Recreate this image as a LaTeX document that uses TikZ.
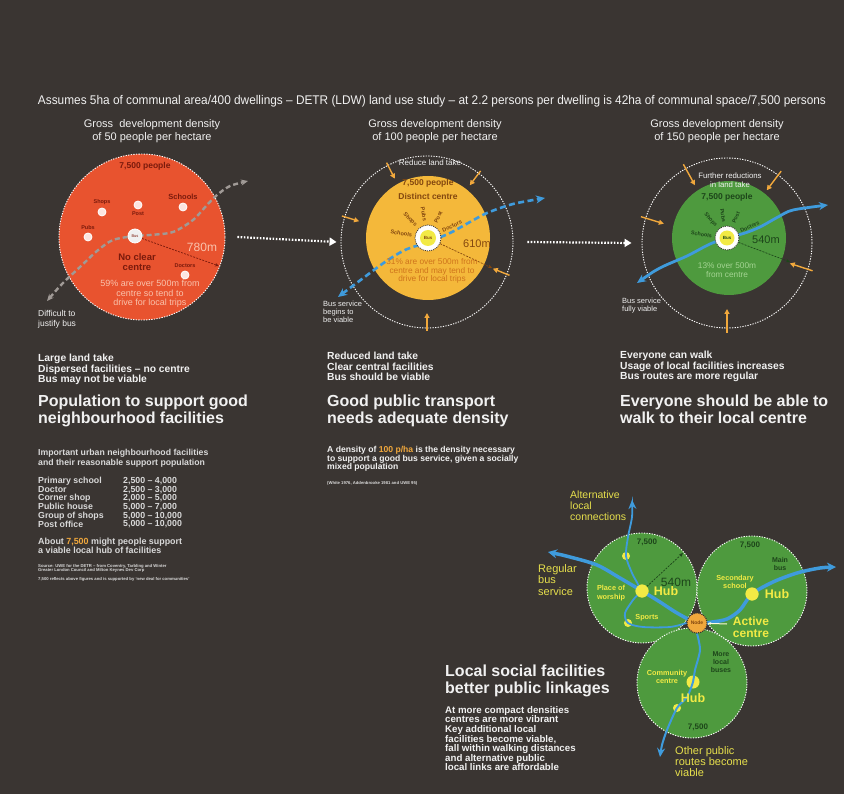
\documentclass[tikz,border=0pt]{standalone}
\usepackage{fontspec}
\setmainfont{Liberation Sans}
\newfontfamily\narrowfont[FakeStretch=0.94]{Liberation Sans}
\usetikzlibrary{arrows.meta,positioning}
\definecolor{bgc}{HTML}{3A3532}
\definecolor{redc}{HTML}{E8532F}
\definecolor{redtxt}{HTML}{7A1A0C}
\definecolor{pinktxt}{HTML}{F9C2AC}
\definecolor{yelc}{HTML}{F4B83A}
\definecolor{browntxt}{HTML}{83470F}
\definecolor{ambtxt}{HTML}{CF741C}
\definecolor{grnc}{HTML}{4E9A3E}
\definecolor{grntxt}{HTML}{1D451A}
\definecolor{ltgrn}{HTML}{A3D492}
\definecolor{bluec}{HTML}{3F9BDC}
\definecolor{orac}{HTML}{F1A83C}
\definecolor{hubyel}{HTML}{F2EA45}
\definecolor{labyel}{HTML}{E6DF4C}
\definecolor{wtxt}{HTML}{F1F1F1}
\definecolor{gtxt}{HTML}{D9D9D9}
\definecolor{busgrey}{HTML}{A09A96}
\newcommand\fsz[2]{\fontsize{#1}{#2}\selectfont}
\tikzset{
	disc/.style={circle, inner sep=0pt, minimum size=#1},
	rim/.style={draw=white, line width=0.9pt, dash pattern=on 1.3pt off 1.3pt},
	inarrow/.style={orac, line width=1.4pt, -{Triangle[length=5pt,width=5pt]}},
	linkarrow/.style={white, line width=2.2pt, dash pattern=on 1.6pt off 1.6pt, -{Triangle[length=7pt,width=8pt]}},
	radline/.style={line width=0.7pt, dash pattern=on 2pt off 1.2pt, -{Stealth[length=4pt,width=3.5pt]}},
	bigtip/.style={{Stealth[length=9pt,width=9pt]}-{Stealth[length=9pt,width=9pt]}},
	facdot/.style={disc=8pt, fill=white!85!redc, draw=white, line width=0.8pt},
	hubdot/.style={disc=13pt, fill=hubyel},
	smalldot/.style={disc=8pt, fill=hubyel},
	blk/.style={anchor=north west, align=left, font=\bfseries\fsz{10.3}{10.6}},
	headline/.style={anchor=north west, align=left, font=\bfseries\fsz{16}{17}},
	yellab/.style={anchor=north west, align=left, text=labyel, font=\fsz{10.5}{11}},
}
\begin{document}
\begin{tikzpicture}[x=1pt, y=-1pt, every node/.style={inner sep=0pt, text=wtxt}]
	\fill[bgc] (0,0) rectangle (844,794);
	\useasboundingbox (0,0) rectangle (844,794);
	\node[font=\narrowfont\fsz{12.6}{13}] (head) at (432,101) {Assumes 5ha of communal area/400 dwellings – DETR (LDW) land use study – at 2.2 persons per dwelling is 42ha of communal space/7,500 persons};
	\node[align=center, font=\fsz{11}{12.5}] (t1) at (152,131) {Gross\ \ development density\\of 50 people per hectare};
	\node[align=center, font=\fsz{11}{12.5}] (t2) at (435,131) {Gross development density\\of 100 people per hectare};
	\node[align=center, font=\fsz{11}{12.5}] (t3) at (717,131) {Gross development density\\of 150 people per hectare};

	\node[disc=166pt, fill=redc, rim] (c1) at (142,237) {};
	\draw[busgrey, line width=2.4pt, dash pattern=on 5pt off 3pt, {Stealth[length=7pt,width=6pt]}-{Stealth[length=7pt,width=6pt]}] plot[smooth] coordinates {(47,301) (63,283) (80,267) (97,251) (113,240) (135,236) (150,235) (173,232) (193,220) (207,205) (217,195) (230,186) (248,181)};
	\node[text=redtxt, font=\bfseries\fsz{8.5}{9}] (pop1) at (145,166) {7,500 people};
	\node[facdot] (shops1) at (102,212) {};
	\node[text=redtxt, font=\bfseries\fsz{5.5}{6}, above=2.5pt of shops1] {Shops};
	\node[facdot] (post1) at (138,205) {};
	\node[text=redtxt, font=\bfseries\fsz{5.5}{6}, below=2.5pt of post1] {Post};
	\node[facdot] (schools1) at (183,207) {};
	\node[text=redtxt, font=\bfseries\fsz{7.5}{8}, above=2.5pt of schools1] {Schools};
	\node[facdot] (pubs1) at (88,237) {};
	\node[text=redtxt, font=\bfseries\fsz{5.5}{6}, above=2.5pt of pubs1] {Pubs};
	\node[facdot] (doctors1) at (185,275) {};
	\node[text=redtxt, font=\bfseries\fsz{5.5}{6}, above=2.5pt of doctors1] {Doctors};
	\node[disc=14pt, fill=white!88!gray, draw=white, line width=0.8pt, text=redtxt, font=\fsz{4}{4}] (bus1) at (135,236) {Bus};
	\coordinate (r1) at (219,266);
	\draw[radline, redtxt] (bus1) -- (r1);
	\node[text=pinktxt, font=\fsz{12}{12}] (d1) at (202,247) {780m};
	\node[align=center, text=redtxt, font=\bfseries\fsz{9.5}{10}] (nc1) at (137,262) {No clear\\centre};
	\node[align=center, text=pinktxt, font=\fsz{9}{9.5}] (pc1) at (150,294) {59\% are over 500m from\\centre so tend to\\drive for local trips};
	\node[anchor=west, align=left, font=\fsz{8.5}{10}] (note1) at (38,319) {Difficult to\\justify bus};

	\node[disc=172pt, rim] (o2) at (427,242) {};
	\node[disc=124pt, fill=yelc] (c2) at (428,238) {};
	\begin{scope}[shift={(o2.center)}]
	\foreach \a in {-117,-53,-163,22,90} \draw[inarrow] (\a:89) -- (\a:71);
	\end{scope}
	\draw[bluec, line width=2.6pt, dash pattern=on 6pt off 3.5pt, {Stealth[length=9pt,width=8pt]}-{Stealth[length=9pt,width=8pt]}] plot[smooth] coordinates {(338,297) (362,279) (385,262) (405,250) (428,242) (450,233) (470,222) (487,213) (513,204) (545,198)};
	\node[font=\fsz{8}{9}] (lt2) at (430,163) {Reduce land take};
	\node[text=browntxt, font=\bfseries\fsz{8.5}{9}] (pop2) at (428,183) {7,500 people};
	\node[text=browntxt, font=\bfseries\fsz{8.5}{9}] (dc2) at (428,196) {Distinct centre};
	\node[disc=26pt, fill=white, draw=bgc, dash pattern=on 1pt off 1pt, line width=0.8pt] (ring2) at (428,238) {};
	\node[disc=16pt, fill=hubyel, text=browntxt, font=\bfseries\fsz{4.5}{5}] (bus2) at (ring2) {Bus};
	\begin{scope}[shift={(ring2.center)}, every node/.append style={text=browntxt, font=\bfseries\fsz{5.6}{6}}]
	\node[rotate=-10, anchor=east] (sch2) at (-170:16) {Schools};
	\node[rotate=-46, anchor=east] (shp2) at (-134:17) {Shops};
	\node[rotate=-80, anchor=east] (pub2) at (-100:17) {Pubs};
	\node[rotate=64, anchor=west] (pst2) at (-64:17) {Post};
	\node[rotate=26, anchor=west] (doc2) at (-26:16) {Doctors};
	\end{scope}
	\coordinate (r2) at (492,268);
	\draw[radline, browntxt] (ring2) -- (r2);
	\node[text=browntxt, font=\fsz{11}{11}] (d2) at (477,244) {610m};
	\node[align=center, text=ambtxt, font=\fsz{8.3}{8.8}] (pc2) at (432,271) {31\% are over 500m from\\centre and may tend to\\drive for local trips};
	\node[anchor=north west, align=left, font=\fsz{7.5}{8}] (note2) at (323,301) {Bus service\\begins to\\be viable};

	\node[disc=170pt, rim] (o3) at (727,243) {};
	\node[disc=114pt, fill=grnc] (c3) at (729,238) {};
	\begin{scope}[shift={(o3.center)}]
	\foreach \a in {-119,-53,-163,18,90} \draw[inarrow] (\a:90) -- (\a:66);
	\end{scope}
	\draw[bluec, line width=2.8pt, {Stealth[length=9pt,width=8pt]}-{Stealth[length=9pt,width=8pt]}] plot[smooth] coordinates {(637,283) (660,268) (687,256) (710,244) (727,238) (745,233) (760,227) (778,217) (793,210) (828,205)};
	\node[align=center, font=\fsz{7.8}{9}] (lt3) at (730,180) {Further reductions\\in land take};
	\node[text=grntxt, font=\bfseries\fsz{8.5}{9}] (pop3) at (727,197) {7,500 people};
	\node[disc=24pt, fill=white, draw=bgc, dash pattern=on 1pt off 1pt, line width=0.8pt] (ring3) at (727,238) {};
	\node[disc=15pt, fill=hubyel, text=grntxt, font=\bfseries\fsz{4.5}{5}] (bus3) at (ring3) {Bus};
	\begin{scope}[shift={(ring3.center)}, every node/.append style={text=grntxt, font=\bfseries\fsz{5.4}{6}}]
	\node[rotate=-8, anchor=east] (sch3) at (-172:15) {Schools};
	\node[rotate=-48, anchor=east] (shp3) at (-132:16) {Shops};
	\node[rotate=-80, anchor=east] (pub3) at (-100:16) {Pubs};
	\node[rotate=66, anchor=west] (pst3) at (-66:16) {Post};
	\node[rotate=26, anchor=west] (doc3) at (-26:15) {Doctors};
	\end{scope}
	\coordinate (r3) at (790,262);
	\draw[radline, grntxt] (ring3) -- (r3);
	\node[text=grntxt, font=\fsz{11}{11}] (d3) at (766,240) {540m};
	\node[align=center, text=ltgrn, font=\fsz{8.3}{9}] (pc3) at (727,270) {13\% over 500m\\from centre};
	\node[anchor=north west, align=left, font=\fsz{7.5}{8}] (note3) at (622,298) {Bus service\\fully viable};

	\draw[linkarrow] ([xshift=12pt]c1.east) -- ([xshift=-4pt]o2.west);
	\draw[linkarrow] ([xshift=14pt]o2.east) -- ([xshift=-10pt]o3.west);

	\node[blk] (b1) at (38,354) {Large land take\\Dispersed facilities – no centre\\Bus may not be viable};
	\node[headline] (h1) at (38,395) {Population to support good\\neighbourhood facilities};
	\node[blk, text=gtxt, font=\bfseries\fsz{8.7}{10}] (imp) at (38,449) {Important urban neighbourhood facilities\\and their reasonable support population};
	\node[blk, text=gtxt, font=\bfseries\fsz{8.8}{8.7}] (fac) at (38,477) {Primary school\\Doctor\\Corner shop\\Public house\\Group of shops\\Post office};
	\node[blk, text=gtxt, font=\bfseries\fsz{8.8}{8.7}] (sup) at (123,477) {2,500 – 4,000\\2,500 – 3,000\\2,000 – 5,000\\5,000 – 7,000\\5,000 – 10,000\\5,000 – 10,000};
	\node[blk, text=gtxt, font=\bfseries\fsz{8.9}{9}] (hub) at (38,538) {About \textcolor{orac}{7,500} might people support\\a viable local hub of facilities};
	\node[blk, text=gtxt, font=\bfseries\fsz{4.2}{4.6}] (src) at (38,564) {Source: UWE for the DETR – from Coventry, Tarbling and Winter\\Greater London Council and Milton Keynes Dev Corp};
	\node[blk, text=gtxt, font=\bfseries\fsz{4.2}{4.6}] (ref) at (38,577) {7,500 reflects above figures and is supported by ‘new deal for communities’};

	\node[blk] (b2) at (327,352) {Reduced land take\\Clear central facilities\\Bus should be viable};
	\node[headline] (h2) at (327,395) {Good public transport\\needs adequate density};
	\node[blk, font=\bfseries\fsz{8.6}{8.6}] (dens) at (327,446) {A density of \textcolor{orac}{100 p/ha} is the density necessary\\to support a good bus service, given a socially\\mixed population};
	\node[blk, text=gtxt, font=\bfseries\fsz{4.2}{4.6}] (cite) at (327,481) {(White 1976, Addenbrooke 1981 and UWE 95)};

	\node[blk] (b3) at (620,351) {Everyone can walk\\Usage of local facilities increases\\Bus routes are more regular};
	\node[headline] (h3) at (620,395) {Everyone should be able to\\walk to their local centre};

	\node[disc=110pt, fill=grnc, rim] (cA) at (642,588) {};
	\node[disc=110pt, fill=grnc, rim] (cB) at (752,591) {};
	\node[disc=110pt, fill=grnc, rim] (cC) at (692,683) {};
	\node[hubdot] (hubA) at (642,591) {};
	\node[hubdot] (hubB) at (752,594) {};
	\node[hubdot] (hubC) at (693,682) {};
	\node[smalldot] (dotA) at (626,556) {};
	\node[smalldot] (sports) at (628,623) {};
	\node[smalldot] (dotC) at (677,708) {};
	\node[disc=20pt, fill=orac, draw=bgc, dash pattern=on 1pt off 1pt, line width=1pt, text=browntxt, font=\bfseries\fsz{5}{5}] (node) at (697,623) {Node};
	\draw[bluec, line width=1.8pt, -{Stealth[length=9pt,width=8pt]}] plot[smooth] coordinates {(node.west) (670,627) (643,627) (628,623) (625,613) (633,600) (640,590) (632,573) (626,556) (628,537) (632,517) (632,500)};
	\draw[bluec, line width=2pt, -{Stealth[length=9pt,width=8pt]}] plot[smooth] coordinates {(node.south) (700,650) (695,670) (693,682) (687,697) (677,708) (667,730) (662,745) (660,757)};
	\draw[bluec, line width=3.5pt, bigtip] plot[smooth] coordinates {(548,552) (570,557) (597,565) (620,578) (642,591) (660,602) (677,613) (697,623) (712,622) (727,619) (740,610) (752,594) (773,582) (797,573) (820,568) (836,567)};
	\node[hubdot] at (hubA) {};
	\node[hubdot] at (hubB) {};
	\node[disc=20pt, fill=orac, draw=bgc, dash pattern=on 1pt off 1pt, line width=1pt, text=browntxt, font=\bfseries\fsz{5}{5}] at (node) {Node};
	\coordinate (rA) at (683,553);
	\draw[radline, grntxt] (hubA) -- (rA);
	\node[text=grntxt, font=\fsz{12}{12}] (dA) at (676,582) {540m};
	\node[text=grntxt, font=\bfseries\fsz{8}{8}] (popA) at (647,542) {7,500};
	\node[text=grntxt, font=\bfseries\fsz{8}{8}] (popB) at (750,545) {7,500};
	\node[text=grntxt, font=\bfseries\fsz{8}{8}] (popC) at (698,727) {7,500};
	\node[text=hubyel, font=\bfseries\fsz{12.5}{12.5}, right=5pt of hubA] (hA) {Hub};
	\node[text=hubyel, font=\bfseries\fsz{12.5}{12.5}, right=6pt of hubB] (hB) {Hub};
	\node[text=hubyel, font=\bfseries\fsz{12.5}{12.5}, below=5pt of hubC] (hC) {Hub};
	\node[text=hubyel, align=center, font=\bfseries\fsz{7.3}{8.5}] (pow) at (611,593) {Place of\\worship};
	\node[text=hubyel, font=\bfseries\fsz{7.3}{8}, right=3pt of sports, yshift=5pt] (sp) {Sports};
	\node[text=hubyel, align=center, font=\bfseries\fsz{7.3}{8.5}] (ss) at (735,582) {Secondary\\school};
	\node[text=grntxt, align=center, font=\bfseries\fsz{7}{8}] (mb) at (780,564) {Main\\bus};
	\node[text=hubyel, align=center, font=\bfseries\fsz{12}{12}] (ac) at (751,627) {Active\\centre};
	\coordinate (acp) at (727,624);
	\draw[white!80!hubyel, line width=1pt, -{Stealth[length=3.5pt]}] (acp) -- (node);
	\node[text=hubyel, align=center, font=\bfseries\fsz{7.3}{8.5}] (cc) at (667,677) {Community\\centre};
	\node[text=grntxt, align=center, font=\bfseries\fsz{7}{8}] (mlb) at (721,662) {More\\local\\buses};
	\node[yellab] (alt) at (570,491) {Alternative\\local\\connections};
	\node[yellab, font=\fsz{11}{11.5}] (reg) at (538,564) {Regular\\bus\\service};
	\node[yellab, font=\fsz{11}{11}] (oth) at (675,746) {Other public\\routes become\\viable};

	\node[headline] (h4) at (445,665) {Local social facilities\\better public linkages};
	\node[blk, font=\bfseries\fsz{9.7}{9.6}] (b4) at (445,706) {At more compact densities\\centres are more vibrant\\Key additional local\\facilities become viable,\\fall within walking distances\\and alternative public\\local links are affordable};
\end{tikzpicture}
\end{document}
